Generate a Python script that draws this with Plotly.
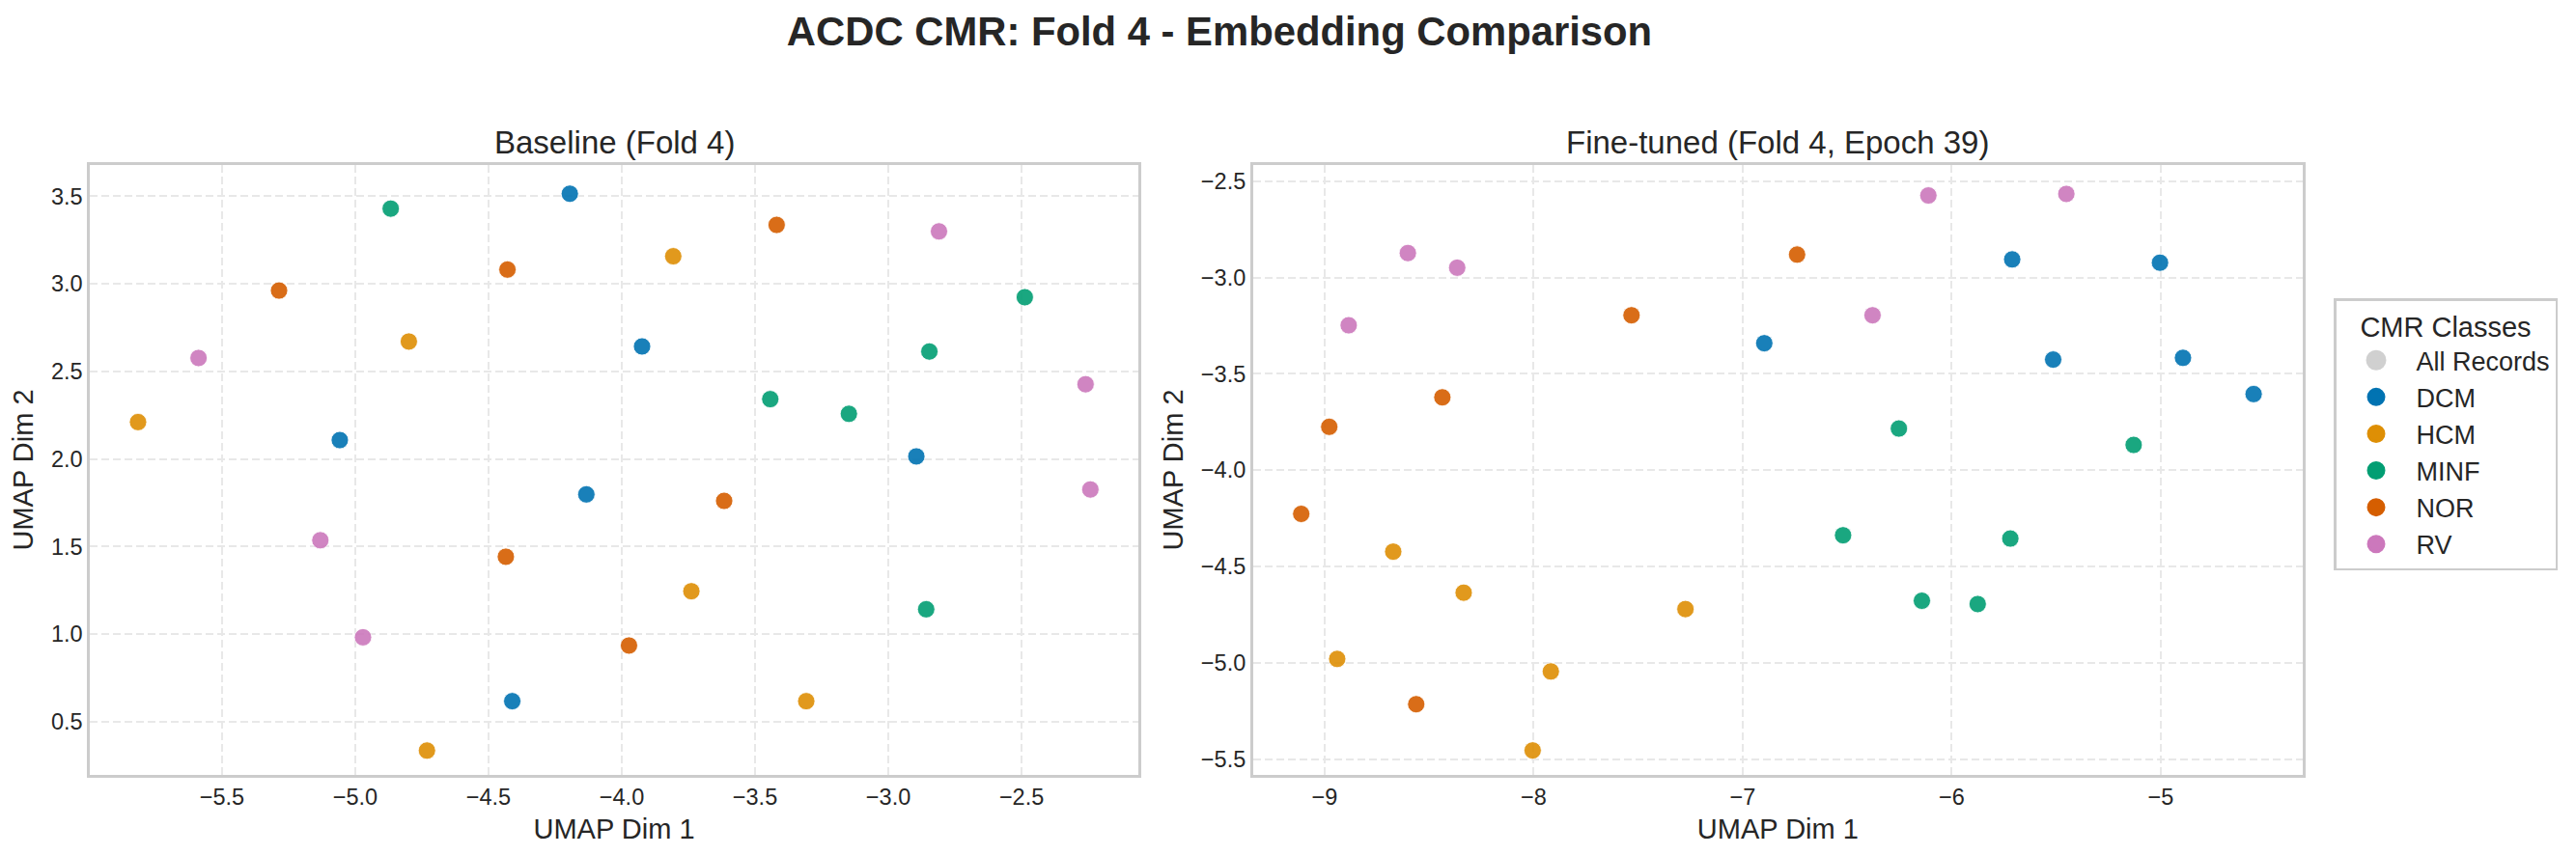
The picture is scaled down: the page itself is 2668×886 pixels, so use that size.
import plotly.graph_objects as go

W, H = 2668, 886
classes = ["DCM", "HCM", "MINF", "NOR", "RV"]
legend_colors = ["#0173B2", "#DE8F05", "#029E73", "#D55E00", "#CC78BC"]
all_records_color = "#D0D0D0"

base_dcm_x = [-4.195, -3.924, -5.058, -4.133, -2.895, -4.411]
base_dcm_y = [3.515, 2.643, 2.108, 1.798, 2.015, 0.617]
base_hcm_x = [-5.815, -4.799, -3.807, -3.739, -3.308, -4.731]
base_hcm_y = [2.211, 2.671, 3.158, 1.245, 0.617, 0.335]
base_minf_x = [-4.867, -2.488, -2.846, -3.443, -3.148, -2.858]
base_minf_y = [3.43, 2.924, 2.614, 2.342, 2.258, 1.142]
base_nor_x = [-5.286, -4.429, -3.419, -3.616, -4.435, -3.973]
base_nor_y = [2.962, 3.082, 3.337, 1.761, 1.442, 0.935]
base_rv_x = [-5.588, -2.81, -2.26, -2.242, -5.131, -4.971]
base_rv_y = [2.577, 3.3, 2.427, 1.826, 1.536, 0.982]

fine_dcm_x = [-5.711, -5.004, -6.897, -5.515, -4.894, -4.556]
fine_dcm_y = [-2.906, -2.923, -3.341, -3.426, -3.417, -3.605]
fine_hcm_x = [-8.672, -8.335, -7.274, -8.94, -7.918, -8.005]
fine_hcm_y = [-4.423, -4.636, -4.721, -4.98, -5.045, -5.455]
fine_minf_x = [-6.253, -5.13, -6.52, -5.72, -6.143, -5.876]
fine_minf_y = [-3.784, -3.869, -4.338, -4.355, -4.678, -4.695]
fine_nor_x = [-6.74, -7.532, -8.437, -8.978, -9.112, -8.562]
fine_nor_y = [-2.881, -3.196, -3.622, -3.775, -4.227, -5.215]
fine_rv_x = [-6.112, -5.452, -8.602, -8.366, -6.379, -8.885]
fine_rv_y = [-2.574, -2.566, -2.873, -2.949, -3.196, -3.248]

base_x = [base_dcm_x, base_hcm_x, base_minf_x, base_nor_x, base_rv_x]
base_y = [base_dcm_y, base_hcm_y, base_minf_y, base_nor_y, base_rv_y]
fine_x = [fine_dcm_x, fine_hcm_x, fine_minf_x, fine_nor_x, fine_rv_x]
fine_y = [fine_dcm_y, fine_hcm_y, fine_minf_y, fine_nor_y, fine_rv_y]

base_xticks = [-5.5, -5.0, -4.5, -4.0, -3.5, -3.0, -2.5]
base_yticks = [0.5, 1.0, 1.5, 2.0, 2.5, 3.0, 3.5]
fine_xticks = [-9, -8, -7, -6, -5]
fine_yticks = [-5.5, -5.0, -4.5, -4.0, -3.5, -3.0, -2.5]

FONT = "Liberation Sans, Arial, sans-serif"
INK = "#262626"
FRAME = "#CCCCCC"
GRID = "#E8E8E8"

fig = go.Figure()
for i, name in enumerate(classes):
    for xs, ys, xa, ya in ((base_x[i], base_y[i], "x", "y"), (fine_x[i], fine_y[i], "x2", "y2")):
        fig.add_trace(go.Scatter(
            x=xs, y=ys, xaxis=xa, yaxis=ya, mode="markers", name=name, showlegend=False,
            marker=dict(color=legend_colors[i], size=18, opacity=0.9,
                        line=dict(color="white", width=0.8)),
        ))

fig.add_trace(go.Scatter(x=[None], y=[None], mode="markers", name="All Records",
                         marker=dict(color=all_records_color, size=16,
                                     line=dict(color=all_records_color, width=5))))
for i, name in enumerate(classes):
    fig.add_trace(go.Scatter(x=[None], y=[None], mode="markers", name=name,
                             marker=dict(color=legend_colors[i], size=16,
                                         line=dict(color=legend_colors[i], width=3))))


def axis(domain, rng, ticks, title, anchor, standoff, fmt):
    return dict(
        domain=domain, range=rng, tickmode="array", tickvals=ticks, anchor=anchor,
        tickformat=fmt,
        showgrid=True, gridcolor=GRID, gridwidth=1.7, griddash="8px,4px",
        zeroline=False, showline=True, mirror=True, linecolor=FRAME, linewidth=2.5,
        ticks="", tickfont=dict(family=FONT, size=23.5, color=INK),
        title=dict(text=title, font=dict(family=FONT, size=29, color=INK), standoff=standoff),
        automargin=False,
    )


fig.update_layout(
    width=W, height=H, margin=dict(l=0, r=0, t=0, b=0, pad=0),
    paper_bgcolor="white", plot_bgcolor="white",
    font=dict(family=FONT, color=INK),
    title=dict(text="<b>ACDC CMR: Fold 4 - Embedding Comparison</b>",
               font=dict(family=FONT, size=41.8, color=INK),
               x=1263 / W, xanchor="center", y=1 - 32 / H, yanchor="middle"),
    xaxis=axis([93 / W, 1179 / W], [-5.996, -2.062], base_xticks, "UMAP Dim 1", "y", 11, ".1f"),
    yaxis=axis([1 - 803 / H, 1 - 171 / H], [0.196, 3.679], base_yticks, "UMAP Dim 2", "x", 10, ".1f"),
    xaxis2=axis([1297.7 / W, 2385 / W], [-9.343, -4.321], fine_xticks, "UMAP Dim 1", "y2", 11, "d"),
    yaxis2=axis([1 - 803 / H, 1 - 171 / H], [-5.582, -2.416], fine_yticks, "UMAP Dim 2", "x2", 10, ".1f"),
    legend=dict(
        x=2417 / W, y=1 - 309 / H, xanchor="left", yanchor="top",
        bgcolor="white", bordercolor=FRAME, borderwidth=2.5,
        font=dict(family=FONT, size=27, color=INK),
        title=dict(text="CMR Classes", side="top center",
                   font=dict(family=FONT, size=29, color=INK)),
        itemsizing="trace", itemwidth=73,
    ),
    annotations=[
        dict(text="Baseline (Fold 4)", x=636 / W, y=1 - 148 / H, xref="paper", yref="paper",
             showarrow=False, xanchor="center", yanchor="middle",
             font=dict(family=FONT, size=33, color=INK)),
        dict(text="Fine-tuned (Fold 4, Epoch 39)", x=1841 / W, y=1 - 148 / H, xref="paper", yref="paper",
             showarrow=False, xanchor="center", yanchor="middle",
             font=dict(family=FONT, size=33, color=INK)),
    ],
)

fig.write_html("out.html", config={"displayModeBar": False},
               post_script="document.body.style.margin='0';")
